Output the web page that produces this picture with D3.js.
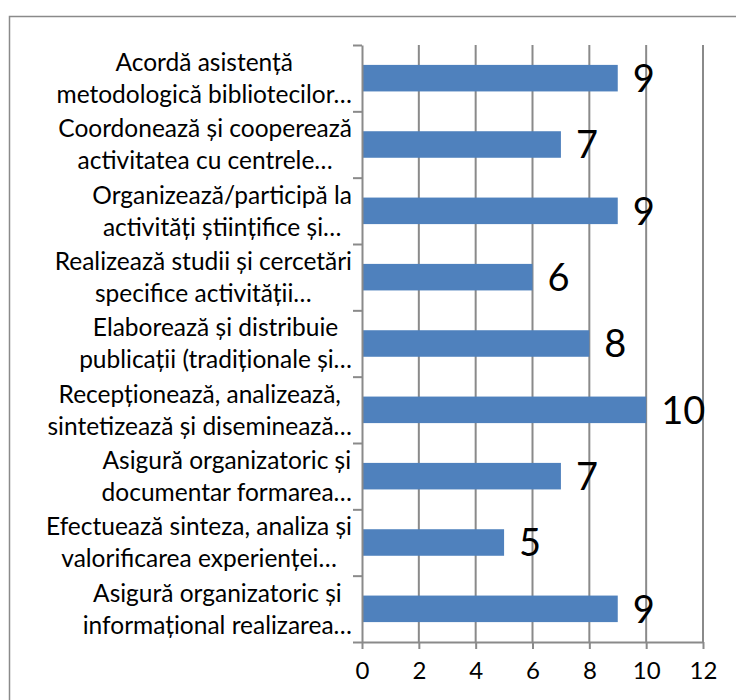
<!DOCTYPE html>
<html>
<head>
<meta charset="utf-8">
<script src="https://cdn.jsdelivr.net/npm/d3@7"></script>
<style>
  body { margin: 0; background: #fff; }
  svg text { font-family: Lato, "Open Sans", sans-serif; fill: #000; }
</style>
</head>
<body>
<svg id="chart" width="736" height="700"></svg>
<script>
// category labels, already split on two lines as in the picture
const categories = [
    ["Acordă asistență", "metodologică bibliotecilor…"],
    ["Coordonează și cooperează", "activitatea cu centrele…"],
    ["Organizează/participă la", "activități științifice și…"],
    ["Realizează studii și cercetări", "specifice activității…"],
    ["Elaborează și distribuie", "publicații (tradiționale și…"],
    ["Recepționează, analizează,", "sintetizează și diseminează…"],
    ["Asigură organizatoric și", "documentar formarea…"],
    ["Efectuează sinteza, analiza și", "valorificarea experienței…"],
    ["Asigură organizatoric și", "informațional realizarea…"]
];
const values = [9, 7, 9, 6, 8, 10, 7, 5, 9];
const xTicks = [0, 2, 4, 6, 8, 10, 12];

const plotLeft = 362, plotRight = 703, plotTop = 45, plotBottom = 642;
const gridColor = "#8a8a8a";
const barColor = "#4f81bd";

const svg = d3.select("#chart");

// outer chart border (right / bottom edges fall outside the picture)
svg.append("rect")
    .attr("x", 9.5).attr("y", 16.5)
    .attr("width", 800).attr("height", 800)
    .attr("fill", "none")
    .attr("stroke", gridColor)
    .attr("stroke-width", 1.5);

const x = d3.scaleLinear().domain([0, 12]).range([plotLeft, plotRight]);

const y = d3.scaleBand()
    .domain(d3.range(categories.length))
    .range([plotTop, plotBottom])
    .paddingInner(0.6)
    .paddingOuter(0.3);

// scale for the category boundary ticks on the vertical axis
const yEdge = d3.scaleLinear().domain([0, categories.length]).range([plotTop, plotBottom]);

// vertical gridlines
svg.append("g")
    .selectAll("line")
    .data(xTicks.slice(1))
    .enter()
    .append("line")
    .attr("x1", d => x(d)).attr("x2", d => x(d))
    .attr("y1", plotTop).attr("y2", plotBottom)
    .attr("stroke", gridColor)
    .attr("stroke-width", 2);

// bars
svg.append("g")
    .selectAll("rect")
    .data(values)
    .enter()
    .append("rect")
    .attr("x", x(0))
    .attr("y", (d, i) => y(i))
    .attr("width", d => x(d) - x(0))
    .attr("height", y.bandwidth())
    .attr("fill", barColor);

// x axis
const xAxis = svg.append("g")
    .attr("transform", `translate(0,${plotBottom})`)
    .call(d3.axisBottom(x).tickValues(xTicks).tickSize(7).tickSizeOuter(0).tickPadding(13));
xAxis.selectAll("path, line").attr("stroke", gridColor).attr("stroke-width", 2);
xAxis.selectAll("text").style("font-size", "24px").attr("fill", "#000");

// y axis with boundary ticks
const yAxis = svg.append("g")
    .attr("transform", `translate(${plotLeft},0)`)
    .call(d3.axisLeft(yEdge).tickValues(d3.range(categories.length + 1)).tickFormat("").tickSize(9).tickSizeOuter(0));
yAxis.selectAll("path, line").attr("stroke", gridColor).attr("stroke-width", 2);

// category labels: lines centred on each other, block right aligned
const labelRight = 352, lineGap = 32;
categories.forEach((lines, i) => {
    const cy = y(i) + y.bandwidth() / 2;
    const g = svg.append("g");
    const texts = g.selectAll("text")
        .data(lines)
        .enter()
        .append("text")
        .attr("y", (d, k) => cy + (k - (lines.length - 1) / 2) * lineGap)
        .attr("dy", "0.36em")
        .attr("text-anchor", "middle")
        .style("font-size", "24.5px")
        .text(d => d);
    const maxW = d3.max(texts.nodes(), n => n.getComputedTextLength());
    texts.attr("x", labelRight - maxW / 2);
});

// data labels
svg.append("g")
    .selectAll("text")
    .data(values)
    .enter()
    .append("text")
    .attr("x", d => x(d) + 15)
    .attr("y", (d, i) => y(i) + y.bandwidth() / 2)
    .attr("dy", "0.36em")
    .style("font-size", "38px")
    .text(d => d);
</script>
</body>
</html>
